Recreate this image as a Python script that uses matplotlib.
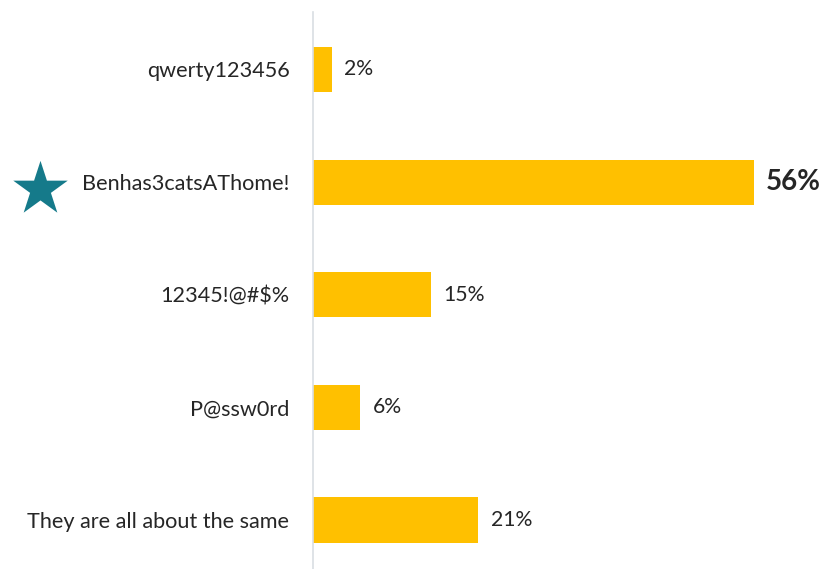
import matplotlib
matplotlib.use("Agg")
import matplotlib.pyplot as plt
from matplotlib.transforms import blended_transform_factory

# data
answers = ["qwerty123456", "Benhas3catsAThome!", "12345!@#$%", "P@ssw0rd",
           "They are all about the same"]
shares = [2.4, 56, 15, 6, 21]
share_labels = ["2%", "56%", "15%", "6%", "21%"]
best = 1  # the starred answer

plt.rcParams['font.family'] = ['Lato', 'DejaVu Sans']

fig = plt.figure(figsize=(8.23, 5.69), dpi=100)
ax = fig.add_axes([313 / 823, 0, 510 / 823, 557 / 569])

pos = list(range(len(answers)))
ax.barh(pos, shares, height=0.4, color="#FFC000")

for i, (v, lab) in enumerate(zip(shares, share_labels)):
    bold = i == best
    ax.annotate(lab, (v, i), xytext=(9, 0), textcoords="offset points",
                va="center", ha="left", color="#262626",
                fontsize=20 if bold else 15.3,
                fontweight="bold" if bold else "normal")

ax.set_yticks(pos)
ax.set_yticklabels(answers, fontsize=15.6, color="#262626")
ax.tick_params(axis="y", length=0, pad=17)
ax.set_xticks([])
ax.set_xlim(0, 64.8)
ax.set_ylim(4.435, -0.51)

for s in ["top", "right", "bottom"]:
    ax.spines[s].set_visible(False)
ax.spines["left"].set_color("#D9DEE3")
ax.spines["left"].set_linewidth(1.2)

# star next to the right answer
tr = blended_transform_factory(fig.transFigure, ax.transData)
ax.scatter([40 / 823], [best + 0.058], marker="*", s=1700, color="#157A8A",
           transform=tr, clip_on=False, linewidths=0)

fig.savefig("out.png", dpi=100)
